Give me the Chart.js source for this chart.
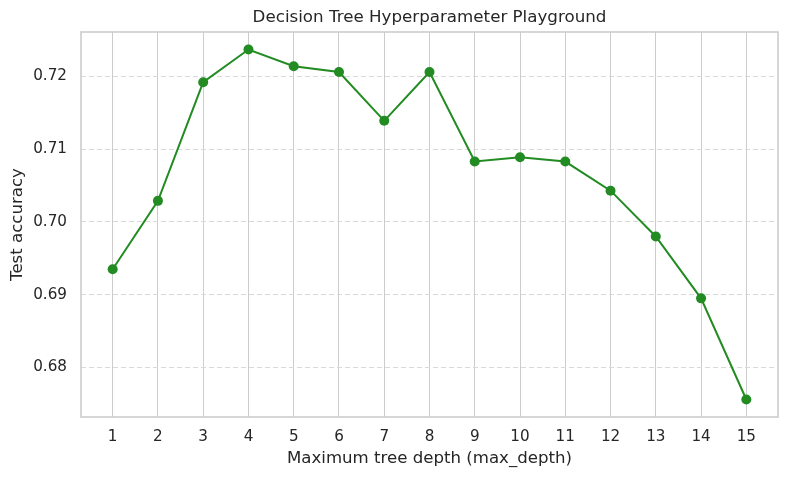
<!DOCTYPE html>
<html>
<head>
<meta charset="utf-8">
<script src="https://cdn.jsdelivr.net/npm/chart.js@4"></script>
<style>
  html, body { margin: 0; padding: 0; background: #ffffff; }
  #chartBox { width: 788px; height: 479px; }
</style>
</head>
<body>
<div id="chartBox"><canvas id="treeChart" width="788" height="479"></canvas></div>
<script>
// values
var maxDepths = [1, 2, 3, 4, 5, 6, 7, 8, 9, 10, 11, 12, 13, 14, 15];
var testAccuracy = [0.6935, 0.7029, 0.7192, 0.7237, 0.7214, 0.7206, 0.7139, 0.7206,
                    0.7083, 0.7089, 0.7083, 0.7043, 0.6980, 0.6895, 0.6756];
var yTickValues = [0.68, 0.69, 0.70, 0.71, 0.72];
var chartTitle = 'Decision Tree Hyperparameter Playground';
var xTitle = 'Maximum tree depth (max_depth)';
var yTitle = 'Test accuracy';

var textColor = '#262626';
var fontFamily = "'DejaVu Sans', sans-serif";

// matplotlib style 5% margins
var xMin = maxDepths[0] - 0.05 * (maxDepths[maxDepths.length - 1] - maxDepths[0]);
var xMax = maxDepths[maxDepths.length - 1] + 0.05 * (maxDepths[maxDepths.length - 1] - maxDepths[0]);
var yLo = Math.min.apply(null, testAccuracy);
var yHi = Math.max.apply(null, testAccuracy);
var yMin = yLo - 0.05 * (yHi - yLo);
var yMax = yHi + 0.05 * (yHi - yLo);

var points = [];
for (var i = 0; i < maxDepths.length; i++) {
  points.push({ x: maxDepths[i], y: testAccuracy[i] });
}

// frame around the plot + title centred over the axes
var framePlugin = {
  id: 'framePlugin',
  afterDraw: function (chart) {
    var a = chart.chartArea;
    var ctx = chart.ctx;
    ctx.save();
    ctx.strokeStyle = '#cccccc';
    ctx.lineWidth = 1.6;
    ctx.strokeRect(a.left, a.top, a.right - a.left, a.bottom - a.top);
    ctx.fillStyle = textColor;
    ctx.font = '16.7px ' + fontFamily;
    ctx.textAlign = 'center';
    ctx.textBaseline = 'middle';
    ctx.fillText(chartTitle, (a.left + a.right) / 2, 18);
    ctx.restore();
  }
};

var ctx = document.getElementById('treeChart').getContext('2d');
var myChart = new Chart(ctx, {
  type: 'line',
  data: {
    datasets: [{
      label: yTitle,
      data: points,
      borderColor: '#228b22',
      backgroundColor: '#228b22',
      borderWidth: 2,
      pointRadius: 5,
      pointBackgroundColor: '#228b22',
      pointBorderColor: '#228b22',
      pointBorderWidth: 0,
      tension: 0,
      fill: false
    }]
  },
  options: {
    responsive: false,
    animation: false,
    layout: { padding: { top: 32, right: 10, bottom: 0, left: 0 } },
    scales: {
      x: {
        type: 'linear',
        min: xMin,
        max: xMax,
        afterBuildTicks: function (scale) {
          scale.ticks = maxDepths.map(function (v) { return { value: v }; });
        },
        afterFit: function (scale) { scale.height = 62; },
        ticks: {
          color: textColor,
          font: { family: fontFamily, size: 15.2 },
          padding: 11,
          maxRotation: 0,
          autoSkip: false,
          callback: function (val) { return String(val); }
        },
        grid: { color: '#cccccc', lineWidth: 1, drawTicks: false },
        border: { display: false },
        title: {
          display: true,
          text: xTitle,
          color: textColor,
          font: { family: fontFamily, size: 16.6 },
          padding: { top: 0, bottom: 10 }
        }
      },
      y: {
        type: 'linear',
        min: yMin,
        max: yMax,
        afterBuildTicks: function (scale) {
          scale.ticks = yTickValues.map(function (v) { return { value: v }; });
        },
        afterFit: function (scale) { scale.width = 81; },
        ticks: {
          color: textColor,
          font: { family: fontFamily, size: 15.2 },
          padding: 14,
          callback: function (val) { return Number(val).toFixed(2); }
        },
        grid: { color: '#d9d9d9', lineWidth: 1, drawTicks: false },
        border: { display: false, dash: [5, 3] },
        title: {
          display: true,
          text: yTitle,
          color: textColor,
          font: { family: fontFamily, size: 16.6 },
          padding: { top: 8, bottom: 0 }
        }
      }
    },
    plugins: {
      legend: { display: false },
      title: { display: false },
      tooltip: { enabled: false }
    }
  },
  plugins: [framePlugin]
});
</script>
</body>
</html>
